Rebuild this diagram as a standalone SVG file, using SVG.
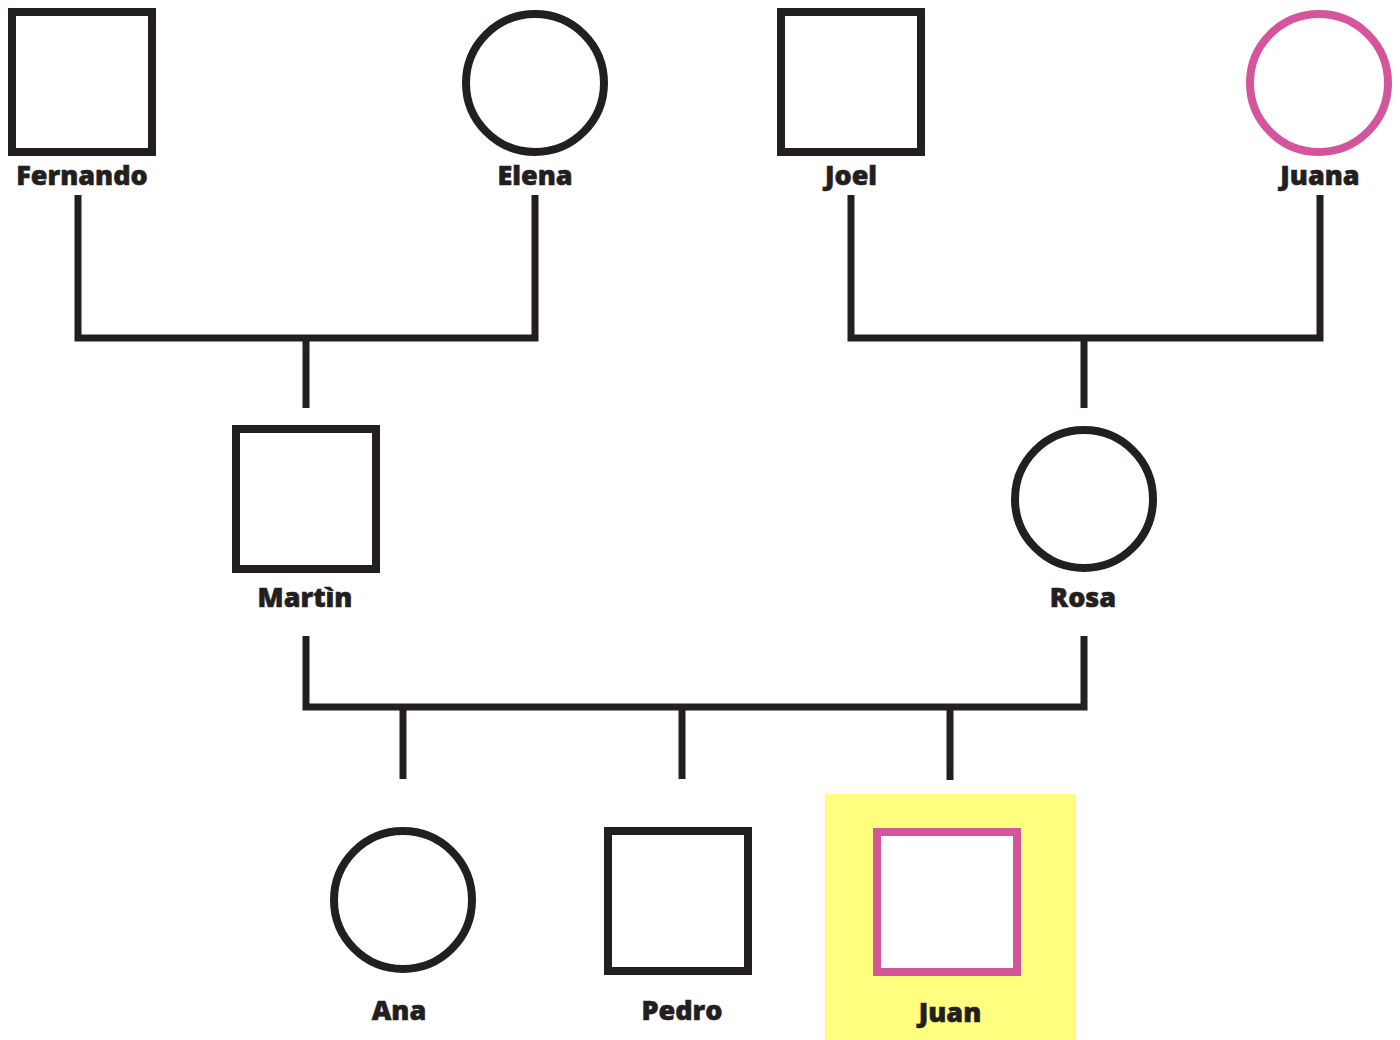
<svg xmlns="http://www.w3.org/2000/svg" width="1400" height="1040" viewBox="0 0 1400 1040">
<style>
.sym{fill:#fff;stroke:#231f20;stroke-width:8}
.pink{stroke:#d4559b}
.lbl{font-family:"Open Sans",Lato,sans-serif;font-weight:800;font-size:27px;fill:#231f20;text-anchor:middle;stroke:#231f20;stroke-width:0.6}
.ln{fill:none;stroke:#231f20;stroke-width:7;stroke-linecap:butt;stroke-linejoin:miter}
</style>
<rect width="1400" height="1040" fill="#fff"/>
<g id="connectors">
<path class="ln" d="M78,195V338H535V195M306,338V408"/>
<path class="ln" d="M851,195V338H1320V195M1084,338V408"/>
<path class="ln" d="M306,636V707H1084V636M403,707V779M682,707V779M950,707V780"/>
</g>
<g id="fernando"><rect class="sym" x="12" y="12" width="140" height="140"/><text class="lbl" x="82" y="185">Fernando</text></g>
<g id="elena"><circle class="sym" cx="535" cy="83" r="69"/><text class="lbl" x="535" y="185">Elena</text></g>
<g id="joel"><rect class="sym" x="781" y="12" width="140" height="140"/><text class="lbl" x="851" y="185">Joel</text></g>
<g id="juana"><circle class="sym pink" cx="1319" cy="83" r="69"/><text class="lbl" x="1320" y="185">Juana</text></g>
<g id="martin"><rect class="sym" x="236" y="429" width="140" height="140"/><text class="lbl" x="305" y="607">Martìn</text></g>
<g id="rosa"><circle class="sym" cx="1084" cy="499" r="69"/><text class="lbl" x="1083" y="607">Rosa</text></g>
<g id="ana"><circle class="sym" cx="403" cy="900" r="69"/><text class="lbl" x="399" y="1020">Ana</text></g>
<g id="pedro"><rect class="sym" x="608" y="831" width="140" height="140"/><text class="lbl" x="682" y="1020">Pedro</text></g>
<g id="juan"><rect x="825" y="794" width="251" height="246" fill="#fffe7f"/><rect class="sym pink" x="877" y="832" width="140" height="140"/><text class="lbl" x="950" y="1022">Juan</text></g>
</svg>
